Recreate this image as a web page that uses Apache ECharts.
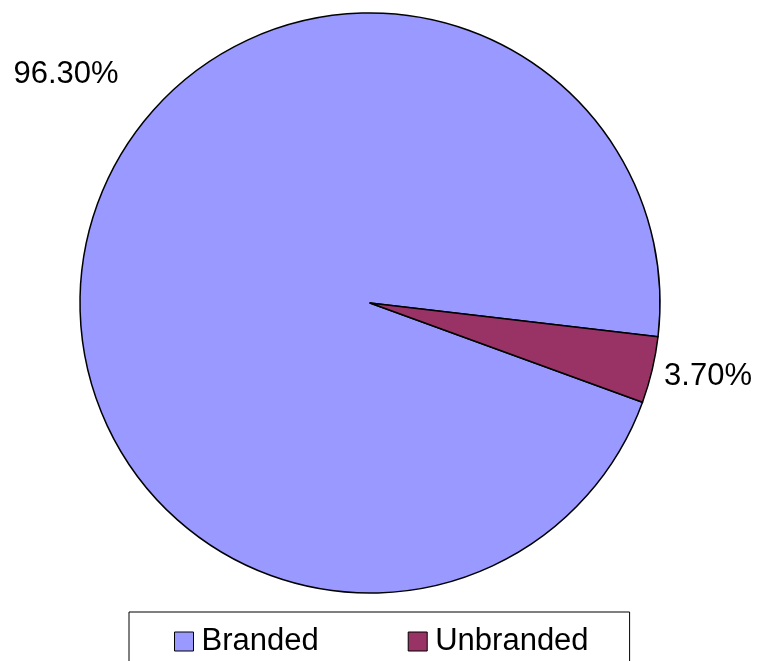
<!DOCTYPE html>
<html>
<head>
<meta charset="utf-8">
<script src="https://cdn.jsdelivr.net/npm/echarts@6/dist/echarts.min.js"></script>
<style>
  html, body { margin: 0; padding: 0; background: #fff; }
  #main { width: 768px; height: 661px; }
</style>
</head>
<body>
<div id="main"></div>
<script>
  // 数据
  var categories = ['Branded', 'Unbranded'];
  var shares = [96.3, 3.7];
  var colors = ['#9999FF', '#993366'];

  var font = '"Liberation Sans", Arial, sans-serif';

  var myChart = echarts.init(document.getElementById('main'));

  // label anchors (Excel put the big one in the top-left corner)
  var labelPos = [
    { x: 66, y: 74 },
    { x: 708, y: 376 }
  ];

  var option = {
    backgroundColor: '#fff',
    animation: false,
    legend: {
      data: categories,
      left: 129,
      top: 612,
      orient: 'horizontal',
      padding: [14, 41, 20, 45],
      itemGap: 89,
      itemWidth: 19,
      itemHeight: 19,
      icon: 'rect',
      borderColor: '#000',
      borderWidth: 1,
      itemStyle: { borderColor: '#000', borderWidth: 1 },
      textStyle: { fontFamily: font, fontSize: 31, color: '#000', padding: [0, 0, 0, 3] }
    },
    series: [{
      type: 'pie',
      center: [370, 303],
      radius: 290,
      startAngle: 340,
      clockwise: true,
      avoidLabelOverlap: false,
      itemStyle: { borderColor: '#000', borderWidth: 1.5 },
      label: {
        show: true,
        position: 'outside',
        fontFamily: font,
        fontSize: 31,
        color: '#000',
        formatter: function (p) { return p.value.toFixed(2) + '%'; }
      },
      labelLine: { show: false },
      labelLayout: function (params) {
        var p = labelPos[params.dataIndex];
        return { x: p.x, y: p.y, align: 'center', verticalAlign: 'middle' };
      },
      emphasis: { disabled: true },
      data: categories.map(function (c, i) {
        return { name: c, value: shares[i], itemStyle: { color: colors[i] } };
      })
    }]
  };

  myChart.setOption(option);
</script>
</body>
</html>
